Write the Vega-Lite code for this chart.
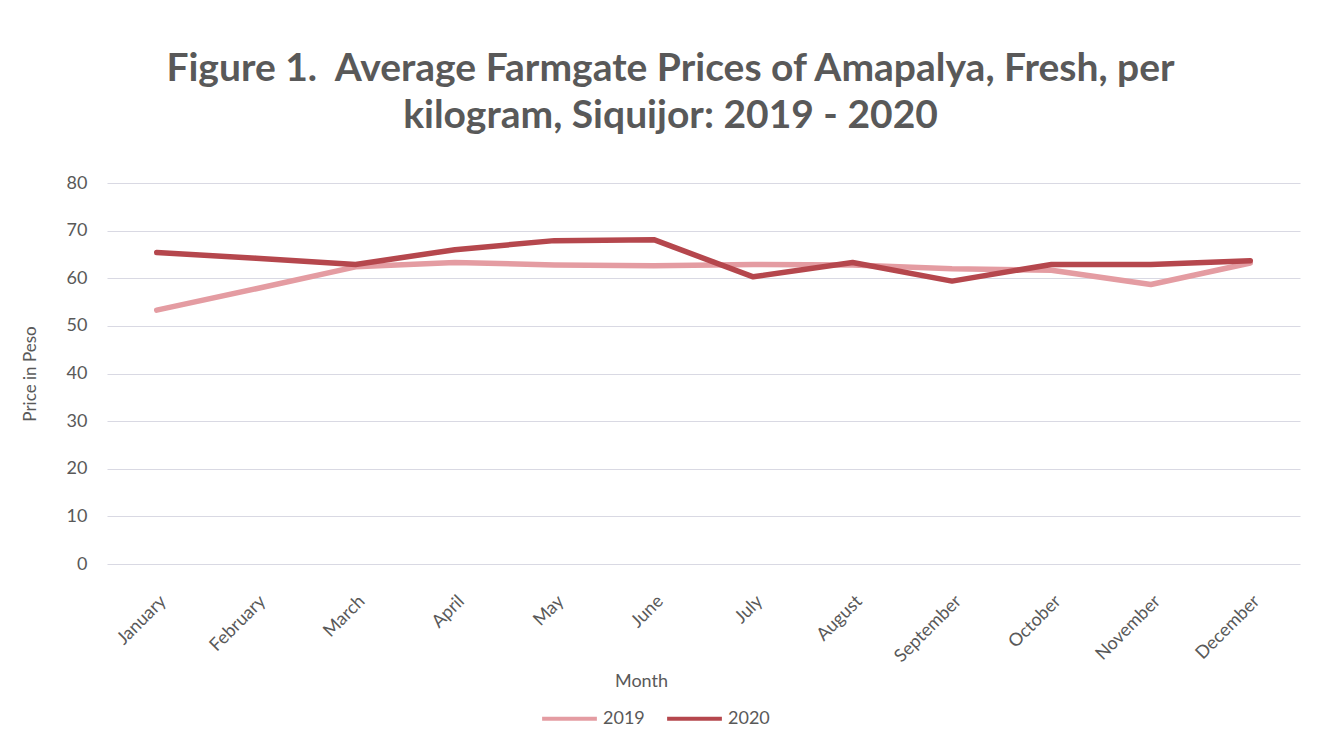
{
  "$schema": "https://vega.github.io/schema/vega-lite/v6.json",
  "width": 1193,
  "height": 381,
  "autosize": "none",
  "padding": {"left": 107, "top": 183, "right": 19, "bottom": 167},
  "background": "white",
  "title": {
    "text": ["Figure 1.\u00a0 Average Farmgate Prices of Amapalya, Fresh, per", "kilogram, Siquijor: 2019 - 2020"],
    "anchor": "middle",
    "frame": "group",
    "dx": -33,
    "offset": 38,
    "font": "Lato",
    "fontSize": 39,
    "fontWeight": "bold",
    "color": "#595959",
    "lineHeight": 47
  },
  "data": {
    "values": [
      {"month": "January", "year": "2019", "price": 53.3},
      {"month": "February", "year": "2019", "price": 57.8},
      {"month": "March", "year": "2019", "price": 62.4},
      {"month": "April", "year": "2019", "price": 63.3},
      {"month": "May", "year": "2019", "price": 62.8},
      {"month": "June", "year": "2019", "price": 62.6},
      {"month": "July", "year": "2019", "price": 62.9},
      {"month": "August", "year": "2019", "price": 62.8},
      {"month": "September", "year": "2019", "price": 62.0},
      {"month": "October", "year": "2019", "price": 61.7},
      {"month": "November", "year": "2019", "price": 58.7},
      {"month": "December", "year": "2019", "price": 63.2},
      {"month": "January", "year": "2020", "price": 65.4},
      {"month": "February", "year": "2020", "price": 64.2},
      {"month": "March", "year": "2020", "price": 62.9},
      {"month": "April", "year": "2020", "price": 66.0},
      {"month": "May", "year": "2020", "price": 67.9},
      {"month": "June", "year": "2020", "price": 68.1},
      {"month": "July", "year": "2020", "price": 60.3},
      {"month": "August", "year": "2020", "price": 63.3},
      {"month": "September", "year": "2020", "price": 59.4},
      {"month": "October", "year": "2020", "price": 62.9},
      {"month": "November", "year": "2020", "price": 62.9},
      {"month": "December", "year": "2020", "price": 63.7}
    ]
  },
  "mark": {"type": "line", "strokeWidth": 5.5, "strokeCap": "round", "strokeJoin": "round"},
  "encoding": {
    "x": {
      "field": "month",
      "type": "ordinal",
      "sort": ["January","February","March","April","May","June","July","August","September","October","November","December"],
      "scale": {"type": "point", "padding": 0.5},
      "axis": {
        "title": "Month",
        "titleFont": "Lato",
        "titleFontSize": 18,
        "titleFontWeight": "normal",
        "titleColor": "#595959",
        "titleX": 534,
        "titleY": 122,
        "titleBaseline": "alphabetic",
        "labelAngle": -45,
        "labelFont": "Lato",
        "labelFontSize": 18,
        "labelColor": "#595959",
        "labelPadding": 28,
        "labelDx": 17,
        "domain": false,
        "ticks": false,
        "grid": false
      }
    },
    "y": {
      "field": "price",
      "type": "quantitative",
      "scale": {"domain": [0, 80]},
      "axis": {
        "title": "Price in Peso",
        "titleFont": "Lato",
        "titleFontSize": 17,
        "titleFontWeight": "normal",
        "titleColor": "#595959",
        "titleX": -68,
        "values": [0,10,20,30,40,50,60,70,80],
        "labelFont": "Lato",
        "labelFontSize": 18,
        "labelColor": "#595959",
        "labelPadding": 20,
        "domain": false,
        "ticks": false,
        "grid": true,
        "gridColor": "#d9d9e3",
        "gridWidth": 1
      }
    },
    "color": {
      "field": "year",
      "type": "nominal",
      "scale": {"domain": ["2019", "2020"], "range": ["#e49ca2", "#b5474d"]},
      "legend": {
        "title": null,
        "orient": "none",
        "direction": "horizontal",
        "legendX": 433,
        "legendY": 506,
        "symbolType": "stroke",
        "symbolSize": 3000,
        "symbolStrokeWidth": 4,
        "labelFont": "Lato",
        "labelFontSize": 18,
        "labelColor": "#595959",
        "columnPadding": 14,
        "labelOffset": 4
      }
    }
  },
  "config": {"view": {"stroke": null}}
}
